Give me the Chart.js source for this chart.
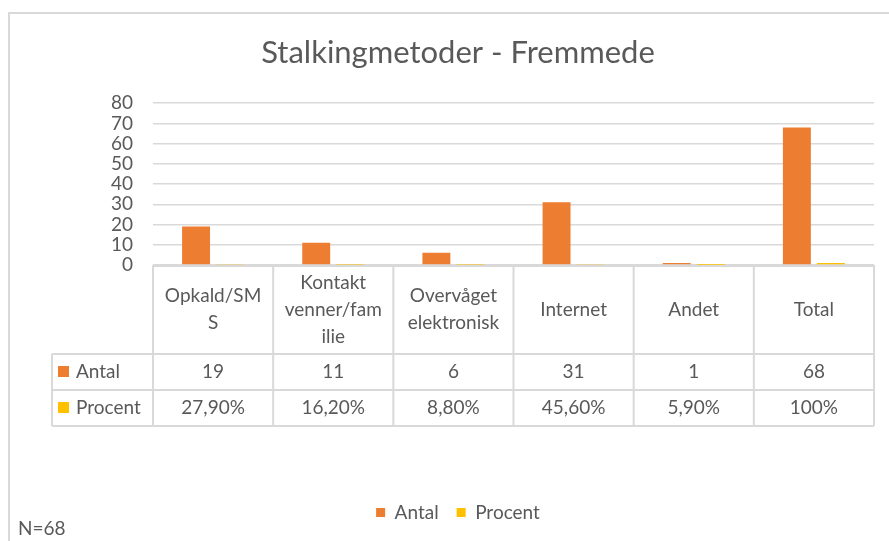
<!DOCTYPE html>
<html>
<head>
<meta charset="utf-8">
<script src="https://cdn.jsdelivr.net/npm/chart.js@4"></script>
<style>
    html, body { margin: 0; padding: 0; background: #fff; }
    #wrap { position: relative; width: 889px; height: 541px; overflow: hidden; }
    #frame { position: absolute; left: 8px; top: 12px; right: -4px; bottom: -4px;
             border-top: 2px solid #d9d9d9; border-left: 2px solid #d9d9d9; }
    #chart { position: absolute; left: 0; top: 0; }
    #note { position: absolute; left: 18px; top: 516px; font: 19px Lato, sans-serif; color: #595959; }
</style>
</head>
<body>
<div id="wrap">
    <div id="frame"></div>
    <canvas id="chart" width="889" height="541"></canvas>
    <div id="note">N=68</div>
</div>
<script>
// Stalkingmetoder - Fremmede: bar chart with Excel-style data table

const categories = [
    ['Opkald/SM', 'S'],
    ['Kontakt', 'venner/fam', 'ilie'],
    ['Overvåget', 'elektronisk'],
    'Internet',
    'Andet',
    'Total'
];
const antal = [19, 11, 6, 31, 1, 68];
const procent = [0.279, 0.162, 0.088, 0.456, 0.059, 1];
const antalText = ['19', '11', '6', '31', '1', '68'];
const procentText = ['27,90%', '16,20%', '8,80%', '45,60%', '5,90%', '100%'];

const ORANGE = '#ED7D31';
const YELLOW = '#FFC000';
const TEXT = '#595959';
const LINE = '#d9d9d9';
const FONT = 'Lato, sans-serif';

// draws the data table under the plot, using the x scale for the columns
// (before the bars, so the small bars sit on top of the axis line)
const dataTable = {
    id: 'dataTable',
    beforeDatasetsDraw(chart) {
        const ctx = chart.ctx;
        const xs = chart.scales.x;
        const top = chart.chartArea.bottom;
        const headH = 89;
        const rowH = 36;
        const labelLeft = 52;
        const n = categories.length;
        const colW = (xs.right - xs.left) / n;
        const rowTop1 = top + headH;
        const rowTop2 = rowTop1 + rowH;
        const bottom = rowTop2 + rowH;

        ctx.save();
        ctx.strokeStyle = LINE;
        ctx.lineWidth = 2;
        ctx.beginPath();
        // top border (axis line)
        ctx.moveTo(xs.left, top + 1); ctx.lineTo(xs.right, top + 1);
        // row lines
        [rowTop1, rowTop2, bottom].forEach(y => {
            ctx.moveTo(labelLeft, y); ctx.lineTo(xs.right, y);
        });
        // column lines
        for (let i = 0; i <= n; i++) {
            const x = xs.getPixelForTick(Math.min(i, n - 1)) + (i === n ? colW / 2 : -colW / 2);
            ctx.moveTo(x, top); ctx.lineTo(x, bottom);
        }
        ctx.moveTo(labelLeft, rowTop1); ctx.lineTo(labelLeft, bottom);
        ctx.stroke();

        ctx.fillStyle = TEXT;
        ctx.font = '19px ' + FONT;
        ctx.textAlign = 'center';
        ctx.textBaseline = 'middle';
        const lineH = 27;
        categories.forEach((cat, i) => {
            const cx = xs.getPixelForTick(i);
            const lines = Array.isArray(cat) ? cat : [cat];
            const y0 = top + headH / 2 - (lines.length - 1) * lineH / 2;
            lines.forEach((t, j) => ctx.fillText(t, cx, y0 + j * lineH));
            ctx.fillText(antalText[i], cx, rowTop1 + rowH / 2);
            ctx.fillText(procentText[i], cx, rowTop2 + rowH / 2);
        });

        // series keys
        ctx.textAlign = 'left';
        const keys = [[ORANGE, 'Antal', rowTop1], [YELLOW, 'Procent', rowTop2]];
        keys.forEach(([color, label, y]) => {
            ctx.fillStyle = color;
            ctx.fillRect(58, y + rowH / 2 - 6, 11, 11);
            ctx.fillStyle = TEXT;
            ctx.fillText(label, 76, y + rowH / 2);
        });
        ctx.restore();
    }
};

new Chart(document.getElementById('chart'), {
    type: 'bar',
    data: {
        labels: categories,
        datasets: [
            {
                label: 'Antal',
                data: antal,
                backgroundColor: ORANGE,
                categoryPercentage: 0.567,
                barPercentage: 0.82
            },
            {
                label: 'Procent',
                data: procent,
                backgroundColor: YELLOW,
                categoryPercentage: 0.567,
                barPercentage: 0.82
            }
        ]
    },
    options: {
        responsive: false,
        animation: false,
        layout: { padding: { left: 42, right: 15, top: 0, bottom: 9 } },
        scales: {
            y: {
                min: 0,
                max: 80,
                afterFit: (s) => { s.width = 111; },
                border: { display: false },
                grid: { color: LINE, lineWidth: 1.5, drawTicks: false },
                ticks: {
                    stepSize: 10,
                    autoSkip: false,
                    padding: 20,
                    color: TEXT,
                    font: { family: FONT, size: 19 }
                }
            },
            x: {
                afterFit: (s) => { s.height = 220; },
                border: { display: false },
                grid: { display: false },
                ticks: { display: false }
            }
        },
        plugins: {
            title: {
                display: true,
                text: 'Stalkingmetoder - Fremmede',
                color: TEXT,
                font: { family: FONT, size: 31, weight: 'normal' },
                padding: { top: 34, bottom: 32 }
            },
            legend: {
                position: 'bottom',
                labels: {
                    color: TEXT,
                    boxWidth: 9,
                    boxHeight: 9,
                    padding: 18,
                    font: { family: FONT, size: 19 }
                }
            },
            tooltip: { enabled: false }
        }
    },
    plugins: [dataTable]
});
</script>
</body>
</html>
